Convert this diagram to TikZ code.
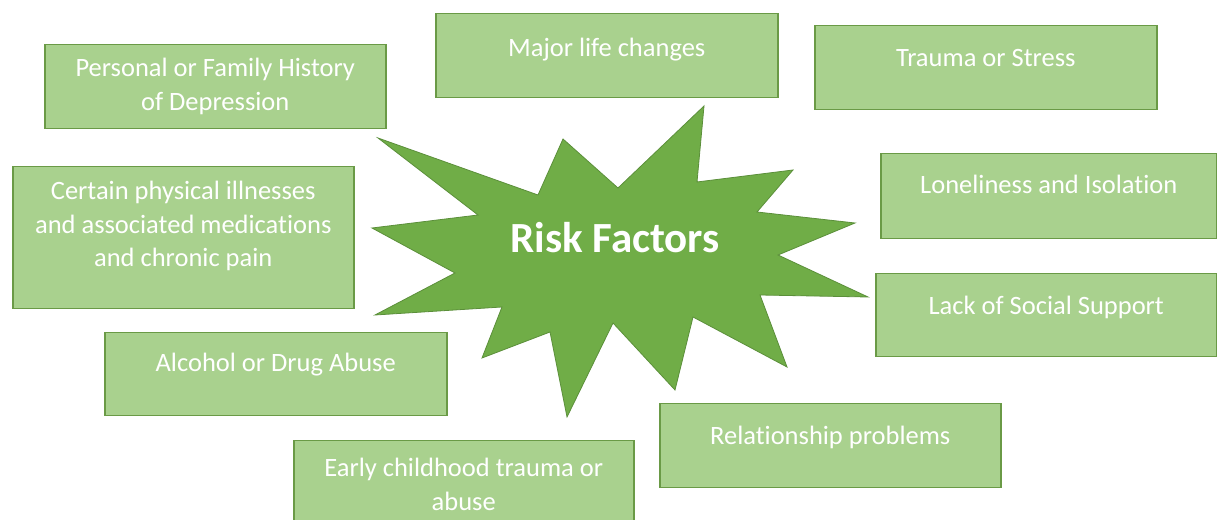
\documentclass[tikz,border=0pt]{standalone}
\usepackage{fontspec}
\setmainfont{Carlito}[Ligatures=NoCommon, Contextuals=NoAlternate]
\begin{document}
\definecolor{starfill}{HTML}{70AD47}
\definecolor{starline}{HTML}{5B8F3A}
\definecolor{boxfill}{HTML}{A9D18E}
\definecolor{boxline}{HTML}{6A9A46}
\begin{tikzpicture}[x=1pt,y=1pt,
  factorbox/.style={draw=boxline, fill=boxfill, line width=1.5pt, inner sep=0pt, anchor=north west},
  factortext/.style={text=white, inner sep=0pt, anchor=base, align=center,
    font=\fontsize{26.5}{33.5}\selectfont},
  title/.style={text=white, inner sep=0pt, anchor=base, font=\fontsize{43}{50}\selectfont\bfseries}]
\useasboundingbox (0,0) rectangle (1217,519);
\clip (0,0) rectangle (1217,519);

% central burst
\draw[fill=starfill, draw=starline, line width=0.8pt, line join=miter]
  (378,381) -- (538,324) -- (563,380) -- (618,331) -- (704,413) -- (697,337)
  -- (793,349) -- (757,307) -- (855,296) -- (778,264) -- (868,222) -- (760,224)
  -- (787,152) -- (693,202) -- (675,129) -- (613,196) -- (567,102) -- (550,187)
  -- (482,161) -- (502,212) -- (375,204) -- (455,246) -- (372,291) -- (478,304)
  -- cycle;
\node[title] (risk) at (615,266) {Risk Factors};

% factor boxes
\node[factorbox, minimum width=341pt, minimum height=84pt] (b1) at (44,475) {};
\node[factorbox, minimum width=342pt, minimum height=84pt] (b2) at (435,506) {};
\node[factorbox, minimum width=342pt, minimum height=84pt] (b3) at (814,494) {};
\node[factorbox, minimum width=341pt, minimum height=142pt] (b4) at (12,353) {};
\node[factorbox, minimum width=336pt, minimum height=85pt] (b5) at (880,366) {};
\node[factorbox, minimum width=341pt, minimum height=83pt] (b6) at (875,246) {};
\node[factorbox, minimum width=342pt, minimum height=83pt] (b7) at (104,187) {};
\node[factorbox, minimum width=341pt, minimum height=84pt] (b8) at (659,116) {};
\node[factorbox, minimum width=340pt, minimum height=86pt] (b9) at (293,79) {};

% factor labels (base anchor sits on the last line of each label)
\node[factortext] (t1) at ([yshift=-66.5pt]b1.north) {Personal or Family History\\of Depression};
\node[factortext] (t2) at ([yshift=-44pt]b2.north) {Major life changes};
\node[factortext] (t3) at ([yshift=-42pt]b3.north) {Trauma or Stress};
\node[factortext] (t4) at ([yshift=-101pt]b4.north) {Certain physical illnesses\\and associated medications\\and chronic pain};
\node[factortext] (t5) at ([yshift=-41pt]b5.north) {Loneliness and Isolation};
\node[factortext] (t6) at ([yshift=-41.5pt]b6.north) {Lack of Social Support};
\node[factortext] (t7) at ([yshift=-40pt]b7.north) {Alcohol or Drug Abuse};
\node[factortext] (t8) at ([yshift=-41.5pt]b8.north) {Relationship problems};
\node[factortext] (t9) at ([yshift=-70pt]b9.north) {Early childhood trauma or\\abuse};
\end{tikzpicture}
\end{document}
